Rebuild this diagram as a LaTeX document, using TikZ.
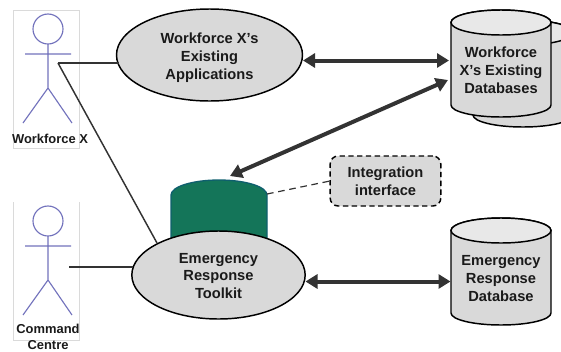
\documentclass[tikz,border=0pt]{standalone}
\usepackage{fontspec}
\setmainfont{Liberation Sans}
\usetikzlibrary{shapes.geometric,arrows.meta}
\definecolor{actorc}{HTML}{7272BC}
\definecolor{boxc}{HTML}{DADADA}
\definecolor{fillc}{HTML}{D9D9D9}
\definecolor{topc}{HTML}{E8E8E8}
\definecolor{linec}{HTML}{333333}
\definecolor{tealc}{HTML}{147559}
\definecolor{tealb}{HTML}{0F5F6E}
\definecolor{textc}{HTML}{1A1A1A}
\tikzset{
  actorline/.style={draw=actorc,line width=0.85pt},
  actorbox/.style={draw=boxc,line width=0.6pt},
  label/.style={font=\bfseries\fontsize{11}{13.4}\selectfont,text=textc,align=center,inner sep=0pt},
  actorlabel/.style={font=\bfseries\fontsize{9.7}{12}\selectfont,text=textc,align=center,inner sep=0pt},
  usecase/.style={ellipse,draw=black,fill=fillc,line width=1.1pt,inner sep=0pt},
  cylbody/.style={draw=black,fill=fillc,line width=1.1pt},
  cyltop/.style={draw=black,fill=topc,line width=1.1pt},
  assoc/.style={draw=linec,line width=1.1pt},
  flow/.style={draw=linec,line width=3pt,{Triangle[length=9pt,width=10.5pt]}-{Triangle[length=9pt,width=10.5pt]}},
  dashlink/.style={draw=linec,line width=0.9pt,dash pattern=on 5pt off 3.5pt},
  iface/.style={draw=black,fill=fillc,line width=1.1pt,rounded corners=6pt,dash pattern=on 4pt off 2.6pt,minimum width=83pt,minimum height=37.5pt,inner sep=0pt,font=\bfseries\fontsize{11}{13.4}\selectfont,text=textc,align=center}
}
\begin{document}
\begin{tikzpicture}[x=0.75pt,y=-0.75pt]
\useasboundingbox (0,0) rectangle (561,351);
% actor 1
\path[actorbox] (13,10) rectangle (79,148);
\path[actorline] (48,29) circle[radius=15];
\path[actorline] (48,44) -- (48,88) (25,54) -- (71,54) (23,123) -- (48,88) -- (72,123);
\node[actorlabel] (wflabel) at (50,138.5) {Workforce X};
% actor 2
\path[actorbox] (13,202) -- (13,340) -- (79,340) -- (79,202);
\path[actorline] (48,221) circle[radius=15];
\path[actorline] (48,236) -- (48,280) (25,246) -- (71,246) (23,315) -- (48,280) -- (72,315);
\node[actorlabel] (cclabel) at (48,337) {Command\\[0.4pt]Centre};
% back cylinder
\path[cylbody] (473,32.5) -- (473,115) arc[start angle=180,end angle=0,x radius=50,y radius=12] -- (573,32.5) arc[start angle=0,end angle=-180,x radius=50,y radius=12.5] -- cycle;
\path[cyltop] (523,32.5) ellipse[x radius=50,y radius=12.5];
% front cylinder
\path[cylbody] (451,22.5) -- (451,105) arc[start angle=180,end angle=0,x radius=50,y radius=12] -- (551,22.5) arc[start angle=0,end angle=-180,x radius=50,y radius=12.5] -- cycle;
\path[cyltop] (501,22.5) ellipse[x radius=50,y radius=12.5];
\node[label] (wfdb) at (501,70.5) {Workforce\\X’s Existing\\Databases};
% emergency database
\path[cylbody] (451,230.5) -- (451,313) arc[start angle=180,end angle=0,x radius=50,y radius=12] -- (551,230.5) arc[start angle=0,end angle=-180,x radius=50,y radius=12.5] -- cycle;
\path[cyltop] (501,230.5) ellipse[x radius=50,y radius=12.5];
\node[label] (erdb) at (501,278.7) {Emergency\\Response\\Database};
% green cylinder
\path[draw=tealb,fill=tealc,line width=1pt] (171,240) -- (171,195) arc[start angle=180,end angle=360,x radius=48,y radius=15] -- (267,240) -- cycle;
% use cases
\node[usecase,minimum width=139.5pt,minimum height=69pt] (wfapp) at (209.5,55) {};
\node[label] (wfapptext) at (209.5,57.5) {Workforce X’s\\Existing\\Applications};
\node[usecase,minimum width=130pt,minimum height=66pt] (ert) at (218.5,275) {};
\node[label] (erttext) at (218.5,276) {Emergency\\Response\\Toolkit};
\node[iface] (integ) at (385.5,181) {Integration\\interface};
% connector ends
\coordinate (hand1) at (58,63);
\coordinate (hand2) at (69,267);
\coordinate (wfappL) at (118.5,63);
\coordinate (ertTL) at (157,243);
\coordinate (ertL) at (132.5,267);
\coordinate (wfappR) at (303,60.5);
\coordinate (wfdbL) at (449,60.5);
\coordinate (wfdbB) at (448,80);
\coordinate (cylT) at (230,176);
\coordinate (ertR) at (305.5,281.5);
\coordinate (erdbL) at (450.5,281.5);
\coordinate (cylR) at (267,194);
\coordinate (integL) at (330,181);
\path[assoc] (hand1) -- (wfappL);
\path[assoc] (hand1) -- (ertTL);
\path[assoc] (hand2) -- (ertL);
\path[flow] (wfappR) -- (wfdbL);
\path[flow] (cylT) -- (wfdbB);
\path[flow] (ertR) -- (erdbL);
\path[dashlink] (cylR) -- (integL);
\end{tikzpicture}
\end{document}
